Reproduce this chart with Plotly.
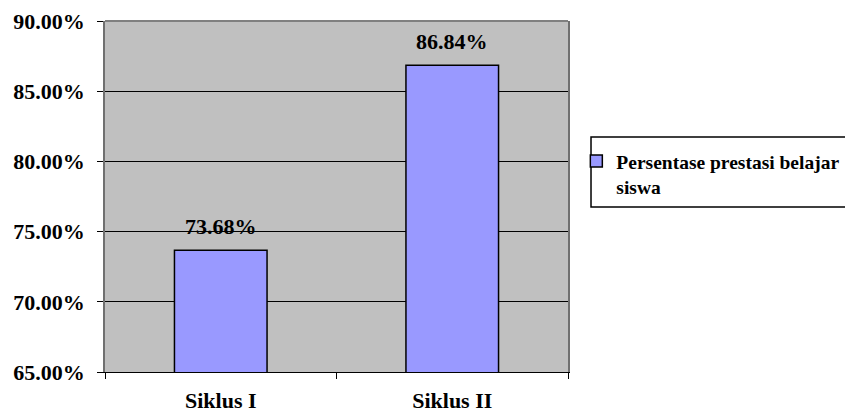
import plotly.graph_objects as go

categories = ["Siklus I", "Siklus II"]
values = [0.7368, 0.8684]
series_name = "Persentase prestasi belajar<br>siswa"
y_ticks = [0.65, 0.70, 0.75, 0.80, 0.85, 0.90]

font_family = "Liberation Serif"

fig = go.Figure()
fig.add_trace(go.Bar(
    x=categories,
    y=values,
    name=series_name,
    width=0.4,
    marker=dict(color="#9999FF", line=dict(color="black", width=1.5)),
    showlegend=True,
))

annotations = [
    dict(x=c, y=v, xref="x", yref="y", text=f"{v:.2%}", showarrow=False,
         yanchor="middle", yshift=24,
         font=dict(family=font_family, size=22, color="black", weight="bold"))
    for c, v in zip(categories, values)
]

# page body has an 8px margin, so the figure is offset by (8, 8)
fig.update_layout(
    width=845, height=404,
    margin=dict(l=97, r=285, t=13, b=40, autoexpand=False),
    paper_bgcolor="white",
    plot_bgcolor="#C0C0C0",
    font=dict(family=font_family, color="black"),
    showlegend=True,
    legend=dict(
        x=1.018, y=0.656, xanchor="left", yanchor="top",
        bgcolor="rgba(0,0,0,0)", borderwidth=0,
        font=dict(family=font_family, size=19.5, color="black", weight="bold"),
        valign="top",
        itemwidth=30,
    ),
    xaxis=dict(
        showline=True, linecolor="black", linewidth=1,
        ticks="outside", ticklen=6, tickcolor="black",
        tickson="boundaries",
        tickfont=dict(family=font_family, size=22, color="black", weight="bold"),
        ticklabelstandoff=9,
        showgrid=False,
        automargin=False,
    ),
    yaxis=dict(
        range=[0.65, 0.90],
        tickvals=y_ticks,
        tickformat=".2%",
        showline=True, linecolor="#707070", linewidth=1.5, mirror=True,
        ticks="outside", ticklen=6, tickcolor="black",
        tickfont=dict(family=font_family, size=22, color="black", weight="bold"),
        ticklabelstandoff=8,
        showgrid=True, gridcolor="black", gridwidth=1,
        zeroline=False,
        automargin=False,
    ),
    annotations=annotations,
    shapes=[
        dict(type="line", xref="paper", yref="paper", x0=0, x1=1, y0=1, y1=1,
             line=dict(color="#808080", width=2)),
        dict(type="rect", xref="paper", yref="paper", x0=1.0497, x1=1.65, y0=0.470, y1=0.6695,
             fillcolor="white", line=dict(color="black", width=1.5), layer="below"),
    ],
)

fig.write_html("out.html")
